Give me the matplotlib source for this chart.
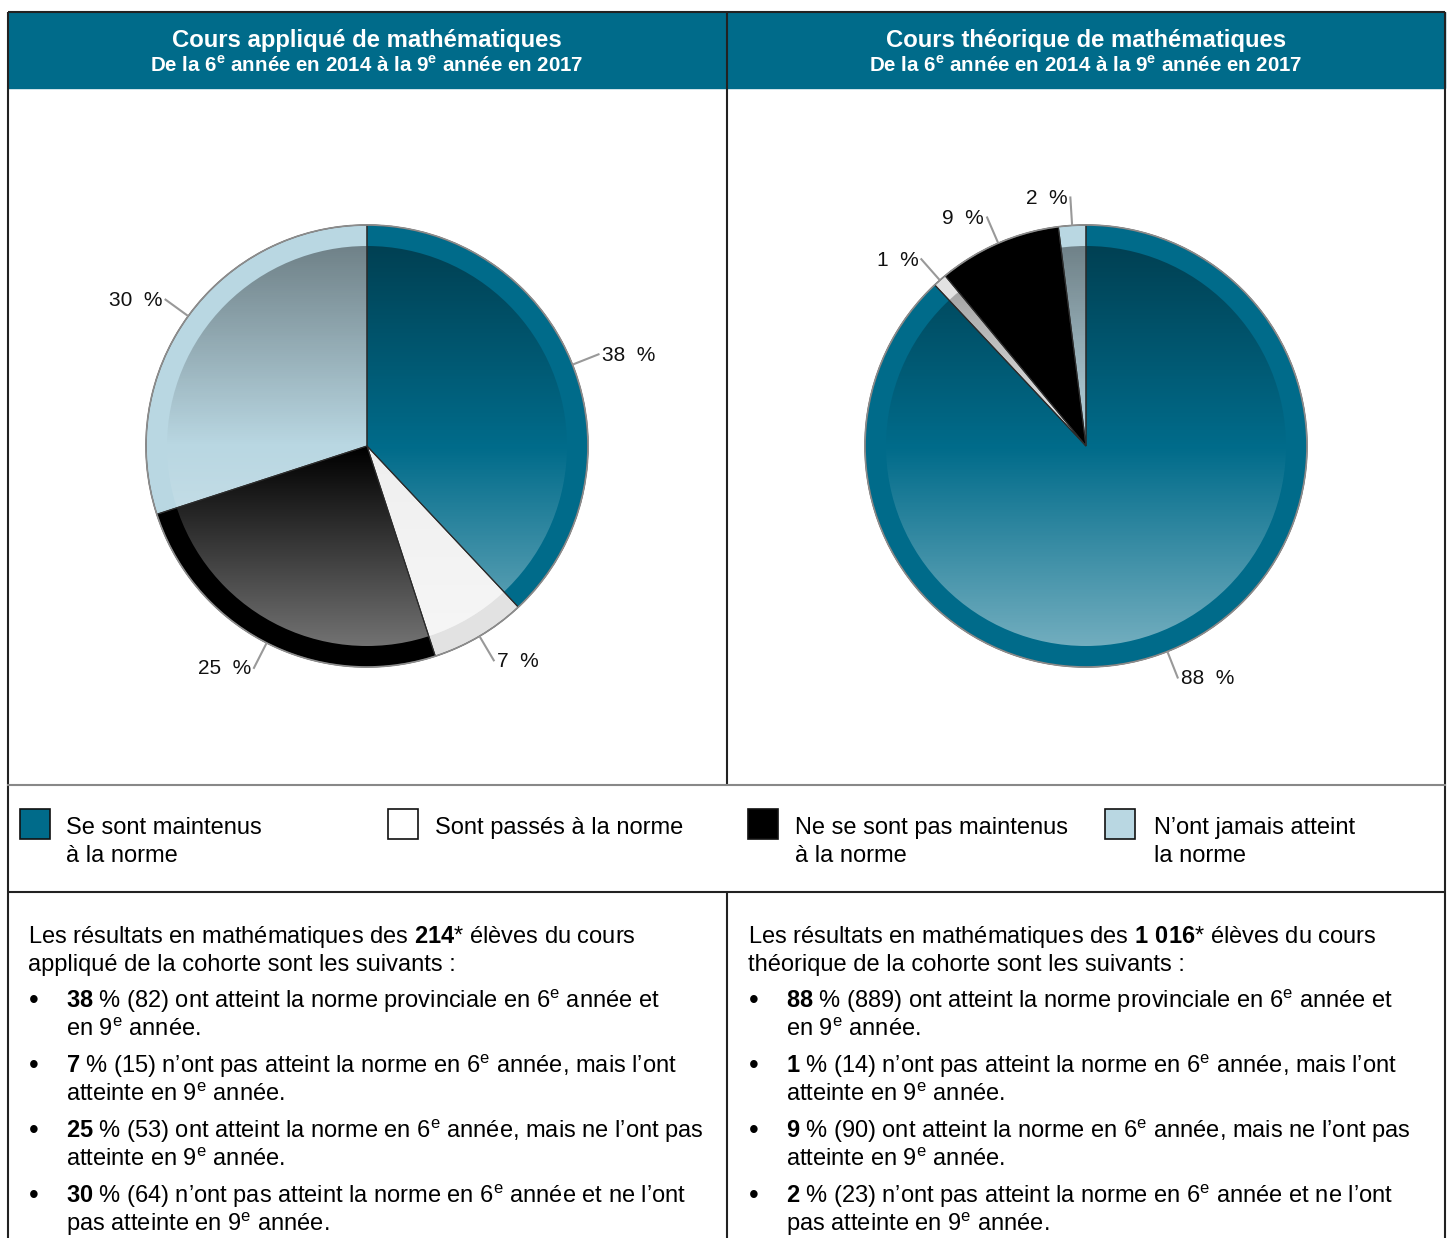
import numpy as np
import matplotlib.pyplot as plt
from matplotlib.patches import Circle, Rectangle

plt.rcParams['font.family'] = ['Liberation Sans', 'DejaVu Sans']
plt.rcParams['mathtext.fontset'] = 'custom'
plt.rcParams['mathtext.rm'] = 'Liberation Sans'
plt.rcParams['mathtext.bf'] = 'Liberation Sans:bold'

# data
legend_labels = ["Se sont maintenus\nà la norme", "Sont passés à la norme",
                 "Ne se sont pas maintenus\nà la norme", "N’ont jamais atteint\nla norme"]
applique_pct = [38, 7, 25, 30]
applique_n = [82, 15, 53, 64]
theorique_pct = [88, 1, 9, 2]
theorique_n = [889, 14, 90, 23]
applique_total = "214"
theorique_total = "1 016"
titles = ["Cours appliqué de mathématiques", "Cours théorique de mathématiques"]
subtitle = "De la 6{e} année en 2014 à la 9{e} année en 2017"
intro = "Les résultats en mathématiques des {tot}* élèves du cours\n{course} de la cohorte sont les suivants :"
courses = ["appliqué", "théorique"]
phrases = [
    "ont atteint la norme provinciale en 6{e} année et\nen 9{e} année.",
    "n’ont pas atteint la norme en 6{e} année, mais l’ont\natteinte en 9{e} année.",
    "ont atteint la norme en 6{e} année, mais ne l’ont pas\natteinte en 9{e} année.",
    "n’ont pas atteint la norme en 6{e} année et ne l’ont\npas atteinte en 9{e} année.",
]

ring_colors = ["#006b8a", "#e2e2e2", "#000000", "#b9d7e2"]
inner_colors = ["#006b8a", "#efefef", "#000000", "#b9d7e2"]
teal = "#006b8a"
body_fs = 17

W, H = 1452, 1238
fig = plt.figure(figsize=(W / 100, H / 100), dpi=100)
bg = fig.add_axes([0, 0, 1, 1])
bg.set_xlim(0, W)
bg.set_ylim(H, 0)
bg.axis('off')


def sup(s, bold=False):
    f = r'\mathbf' if bold else r'\mathrm'
    for d in "69":
        s = s.replace(d + "{e}", "$" + f + "{" + d + "}^{" + f + "{e}}$")
    return s


def bold_num(s):
    return r"$\mathbf{" + s.replace(" ", r"\ ") + "}$"


# header band and frame
bg.add_patch(Rectangle((8, 12), 1437, 76, color=teal, zorder=0))
for i, cx in enumerate([367, 1086]):
    bg.text(cx, 47, titles[i], color='white', fontsize=17.2, fontweight='bold', ha='center', va='baseline')
    bg.text(cx, 72, sup(subtitle, True), color='white', fontsize=14.8, fontweight='bold', ha='center', va='baseline')

lk = dict(color='#222222', lw=1.5, solid_capstyle='butt')
bg.plot([8, 8], [12, H], **lk)
bg.plot([1445, 1445], [12, H], **lk)
bg.plot([8, 1445], [12, 12], **lk)
bg.plot([727, 727], [12, 785], **lk)
bg.plot([727, 727], [892, H], **lk)
bg.plot([8, 1445], [785, 785], color='#888888', lw=1.5)
bg.plot([8, 1445], [892, 892], **lk)

# gradient overlay: darker at top, lighter at bottom
t = np.linspace(0, 1, 400)
grad = np.zeros((400, 1, 4))
top = t < 0.5
grad[top, 0, 3] = 0.4 * (1 - 2 * t[top])
grad[~top, 0, :3] = 1
grad[~top, 0, 3] = 0.45 * (2 * t[~top] - 1)

R, r_in = 221, 200


def draw_pie(cx, cy, vals):
    half = 250
    ax = fig.add_axes([(cx - half) / W, (H - cy - half) / H, 2 * half / W, 2 * half / H])
    ax.patch.set_alpha(0)
    wedges, _ = ax.pie(vals, radius=R, colors=ring_colors, startangle=90, counterclock=False,
                       wedgeprops=dict(edgecolor='none'))
    ax.pie(vals, radius=r_in, colors=inner_colors, startangle=90, counterclock=False,
           wedgeprops=dict(edgecolor='none'))
    im = ax.imshow(grad, extent=(-r_in, r_in, -r_in, r_in), aspect='auto', zorder=1.5, interpolation='bilinear')
    im.set_clip_path(Circle((0, 0), r_in, transform=ax.transData))
    ax.pie(vals, radius=R, colors=['none'] * len(vals), startangle=90, counterclock=False,
           wedgeprops=dict(edgecolor='#2b2b2b', linewidth=0.8, zorder=2))
    ax.add_patch(Circle((0, 0), R, fill=False, edgecolor='#8c8c8c', lw=1.2, zorder=3))
    for w, v in zip(wedges, vals):
        a = np.deg2rad((w.theta1 + w.theta2) / 2)
        x0, y0 = (R + 1) * np.cos(a), (R + 1) * np.sin(a)
        x1, y1 = (R + 28) * np.cos(a), (R + 28) * np.sin(a)
        ax.plot([x0, x1], [y0, y1], color='#999999', lw=1.5, zorder=3)
        right = np.cos(a) >= 0
        ax.text(x1 + (3 if right else -3), y1 - 1, f"{v}  %", fontsize=15, color='#111111',
                ha='left' if right else 'right', va='center')
    ax.set_xlim(-half, half)
    ax.set_ylim(-half, half)
    ax.axis('off')


draw_pie(367, 446, applique_pct)
draw_pie(1086, 446, theorique_pct)

# legend row
sw_x = [20, 388, 748, 1105]
tx_x = [66, 435, 795, 1154]
for i, lab in enumerate(legend_labels):
    bg.add_patch(Rectangle((sw_x[i], 809), 30, 30, facecolor=ring_colors[i] if i != 1 else 'white',
                           edgecolor='#111111', lw=1.2))
    for j, line in enumerate(lab.split("\n")):
        bg.text(tx_x[i], 834 + 28 * j, line, fontsize=body_fs, ha='left', va='baseline')

# text blocks
for col, (pcts, ns, tot) in enumerate([(applique_pct, applique_n, applique_total),
                                       (theorique_pct, theorique_n, theorique_total)]):
    x0 = 28 + 720 * col
    lines = intro.replace("{tot}", bold_num(tot)).replace("{course}", courses[col]).split("\n")
    for j, line in enumerate(lines):
        bg.text(x0, 943 + 28 * j, line, fontsize=body_fs, ha='left', va='baseline')
    for k, (p, n, ph) in enumerate(zip(pcts, ns, phrases)):
        yb = 1008 + 65 * k
        bg.text(x0 + 6, yb, "•", fontsize=body_fs + 3, ha='center', va='baseline')
        body = (bold_num(str(p)) + f" % ({n}) " + ph).split("\n")
        for j, line in enumerate(body):
            bg.text(x0 + 38, yb + 28 * j, sup(line), fontsize=body_fs, ha='left', va='baseline')

fig.savefig("out.png", dpi=100)
